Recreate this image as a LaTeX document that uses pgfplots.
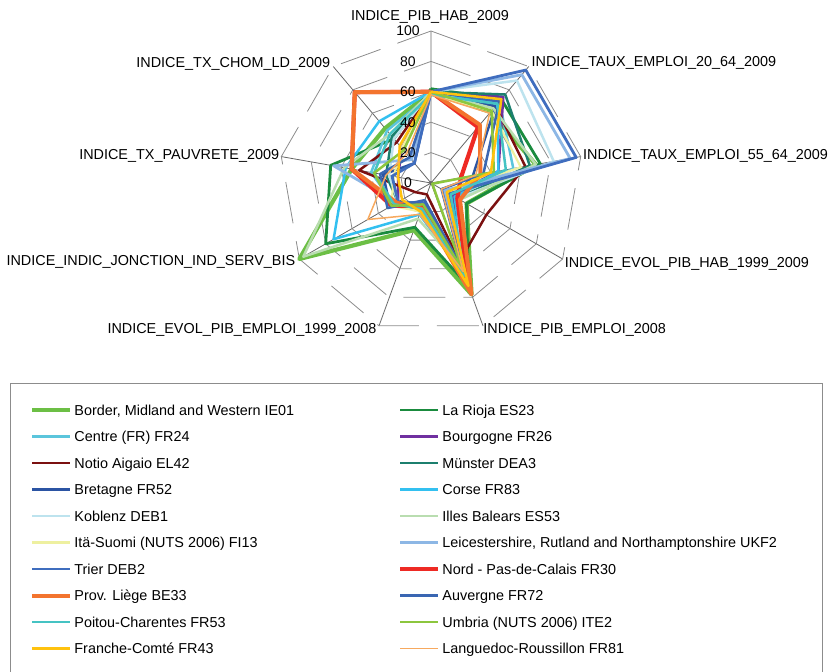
\documentclass[border=0pt]{standalone}
\usepackage{fontspec}
\setmainfont{Liberation Sans}
\usepackage{pgfplots}
\pgfplotsset{compat=1.18}
\usepgfplotslibrary{polar}
\definecolor{cBorder}{HTML}{6CBF45}
\definecolor{cRioja}{HTML}{1A8B3E}
\definecolor{cCentre}{HTML}{5BC5DC}
\definecolor{cBourg}{HTML}{7030A0}
\definecolor{cNotio}{HTML}{7B1010}
\definecolor{cMunster}{HTML}{1C7F6E}
\definecolor{cBret}{HTML}{2B54A3}
\definecolor{cCorse}{HTML}{33C0F0}
\definecolor{cKob}{HTML}{BDE3EE}
\definecolor{cIlles}{HTML}{B9DDB0}
\definecolor{cIta}{HTML}{EEF0A0}
\definecolor{cLeic}{HTML}{8DB7E5}
\definecolor{cTrier}{HTML}{3F6DBE}
\definecolor{cNord}{HTML}{EE2A24}
\definecolor{cLiege}{HTML}{F3742E}
\definecolor{cAuv}{HTML}{3A66B2}
\definecolor{cPoit}{HTML}{45C3C3}
\definecolor{cUmb}{HTML}{8CC63E}
\definecolor{cFran}{HTML}{FFC20E}
\definecolor{cLang}{HTML}{F7A95E}
\definecolor{cGrid}{HTML}{8C8C8C}
\definecolor{cSpoke}{HTML}{666666}
\tikzset{lab/.style={font=\fontsize{14.4bp}{17bp}\selectfont, inner sep=0pt, text height=10.4bp, text depth=0pt},
  rlab/.style={font=\fontsize{14bp}{16bp}\selectfont, inner sep=0pt, text height=10bp, text depth=0pt, anchor=center, xshift=-23bp}}
\begin{document}
\begin{tikzpicture}
\useasboundingbox (0,0) rectangle (835bp,672bp);
\begin{polaraxis}[
  at={(431bp,489bp)}, anchor=center,
  scale only axis, width=304bp, height=304bp,
  xmin=0, xmax=360, ymin=0, ymax=100,
  hide axis, clip=false,
  legend columns=2,
  legend cell align=left,
  legend image code/.code={\draw[#1] (0bp,0bp) -- (38bp,0bp);},
  legend style={at={(axis cs:208.71,300.8)}, anchor=north west, draw=none, fill=none,
    inner xsep=0pt, inner ysep=0pt, row sep=12bp,
    font=\fontsize{14.4bp}{17bp}\selectfont,
    cells={anchor=west},
    nodes={inner xsep=2bp, inner ysep=0pt, text height=12.5bp, text depth=2bp},
    /tikz/every even column/.append style={column sep=102bp}},
  every axis plot/.append style={line join=round},
]
% spokes
\addplot[forget plot, draw=cSpoke, line width=0.8bp] coordinates {(90,100) (90,0) (50,100) (50,0) (10,100) (10,0) (-30,100) (-30,0) (-70,100) (-70,0) (-110,100) (-110,0) (-150,100) (-150,0) (170,100) (170,0) (130,100)};
% rings
\addplot[forget plot, draw=cGrid, line width=0.8bp, dash pattern=on 42bp off 18bp] coordinates {(90,20) (50,20) (10,20) (-30,20) (-70,20) (-110,20) (-150,20) (170,20) (130,20) (90,20)};
\addplot[forget plot, draw=cGrid, line width=0.8bp, dash pattern=on 42bp off 18bp] coordinates {(90,40) (50,40) (10,40) (-30,40) (-70,40) (-110,40) (-150,40) (170,40) (130,40) (90,40)};
\addplot[forget plot, draw=cGrid, line width=0.8bp, dash pattern=on 42bp off 18bp] coordinates {(90,60) (50,60) (10,60) (-30,60) (-70,60) (-110,60) (-150,60) (170,60) (130,60) (90,60)};
\addplot[forget plot, draw=cGrid, line width=0.8bp, dash pattern=on 42bp off 18bp] coordinates {(90,80) (50,80) (10,80) (-30,80) (-70,80) (-110,80) (-150,80) (170,80) (130,80) (90,80)};
\addplot[forget plot, draw=cGrid, line width=0.8bp, dash pattern=on 42bp off 18bp] coordinates {(90,100) (50,100) (10,100) (-30,100) (-70,100) (-110,100) (-150,100) (170,100) (130,100) (90,100)};

% series
\addplot[cBorder, line width=4.2bp] coordinates {(90,60) (50,61) (10,70) (-30,27) (-70,78) (-110,33) (-150,100) (170,53) (130,47) (90,60)};
\addlegendentry{Border, Midland and Western IE01}
\addplot[cRioja, line width=2.8bp] coordinates {(90,62) (50,72) (10,73) (-30,27) (-70,72) (-110,31) (-150,80) (170,67) (130,38) (90,62)};
\addlegendentry{La Rioja ES23}
\addplot[cCentre, line width=2.5bp] coordinates {(90,58) (50,70) (10,55) (-30,18) (-70,65) (-110,20) (-150,28) (170,40) (130,45) (90,58)};
\addlegendentry{Centre (FR) FR24}
\addplot[cBourg, line width=2.5bp] coordinates {(90,60) (50,74) (10,45) (-30,16) (-70,62) (-110,18) (-150,25) (170,22) (130,30) (90,60)};
\addlegendentry{Bourgogne FR26}
\addplot[cNotio, line width=2.5bp] coordinates {(90,60) (50,66) (10,63) (-30,42) (-70,55) (-110,8) (-150,12) (170,48) (130,35) (90,60)};
\addlegendentry{Notio Aigaio EL42}
\addplot[cMunster, line width=2.5bp] coordinates {(90,60) (50,76) (10,66) (-30,20) (-70,66) (-110,15) (-150,25) (170,30) (130,40) (90,60)};
\addlegendentry{Münster DEA3}
\addplot[cBret, line width=2.5bp] coordinates {(90,60) (50,66) (10,28) (-30,18) (-70,60) (-110,16) (-150,31) (170,32) (130,17) (90,60)};
\addlegendentry{Bretagne FR52}
\addplot[cCorse, line width=2.5bp] coordinates {(90,60) (50,68) (10,45) (-30,18) (-70,65) (-110,22) (-150,74) (170,57) (130,53) (90,60)};
\addlegendentry{Corse FR83}
\addplot[cKob, line width=2.5bp] coordinates {(90,60) (50,88) (10,82) (-30,20) (-70,60) (-110,16) (-150,25) (170,28) (130,38) (90,60)};
\addlegendentry{Koblenz DEB1}
\addplot[cIlles, line width=2.5bp] coordinates {(90,60) (50,64) (10,70) (-30,22) (-70,60) (-110,25) (-150,97) (170,58) (130,42) (90,60)};
\addlegendentry{Illes Balears ES53}
\addplot[cIta, line width=2.2bp] coordinates {(90,58) (50,62) (10,60) (-30,12) (-70,55) (-110,20) (-150,30) (170,25) (130,30) (90,58)};
\addlegendentry{Itä-Suomi (NUTS 2006) FI13}
\addplot[cLeic, line width=2.8bp] coordinates {(90,60) (50,93) (10,93) (-30,10) (-70,62) (-110,18) (-150,26) (170,65) (130,20) (90,60)};
\addlegendentry{Leicestershire, Rutland and Northamptonshire UKF2}
\addplot[cTrier, line width=2.8bp] coordinates {(90,60) (50,97) (10,97) (-30,14) (-70,58) (-110,14) (-150,25) (170,26) (130,17) (90,60)};
\addlegendentry{Trier DEB2}
\addplot[cNord, line width=4.2bp] coordinates {(90,60) (50,48) (10,20) (-30,20) (-70,70) (-110,16) (-150,30) (170,53) (130,78) (90,60)};
\addlegendentry{Nord - Pas-de-Calais FR30}
\addplot[cLiege, line width=4bp] coordinates {(90,60) (50,50) (10,33) (-30,22) (-70,78) (-110,18) (-150,26) (170,53) (130,78) (90,60)};
\addlegendentry{Prov. Liège BE33}
\addplot[cAuv, line width=2.5bp] coordinates {(90,60) (50,70) (10,35) (-30,8) (-70,60) (-110,12) (-150,33) (170,34) (130,22) (90,60)};
\addlegendentry{Auvergne FR72}
\addplot[cPoit, line width=2.5bp] coordinates {(90,58) (50,68) (10,50) (-30,15) (-70,65) (-110,18) (-150,28) (170,38) (130,42) (90,58)};
\addlegendentry{Poitou-Charentes FR53}
\addplot[cUmb, line width=2.5bp] coordinates {(90,60) (50,62) (10,42) (-30,1) (-70,62) (-110,15) (-150,30) (170,38) (130,28) (90,60)};
\addlegendentry{Umbria (NUTS 2006) ITE2}
\addplot[cFran, line width=2.5bp] coordinates {(90,60) (50,72) (10,40) (-30,12) (-70,72) (-110,20) (-150,22) (170,22) (130,32) (90,60)};
\addlegendentry{Franche-Comté FR43}
\addplot[cLang, line width=1.5bp] coordinates {(90,58) (50,60) (10,30) (-30,8) (-70,62) (-110,22) (-150,48) (170,30) (130,25) (90,58)};
\addlegendentry{Languedoc-Roussillon FR81}

% radial tick labels
\node[rlab] at (axis cs:90,0) {0};
\node[rlab] at (axis cs:90,20) {20};
\node[rlab] at (axis cs:90,40) {40};
\node[rlab] at (axis cs:90,60) {60};
\node[rlab] at (axis cs:90,80) {80};
\node[rlab] at (axis cs:90,100) {100};
% category labels
\node[lab, anchor=center, xshift=-1bp, yshift=16bp] at (axis cs:90,100) {INDICE\_PIB\_HAB\_2009};
\node[lab, anchor=west, xshift=2.7bp, yshift=5.7bp] at (axis cs:50,100) {INDICE\_TAUX\_EMPLOI\_20\_64\_2009};
\node[lab, anchor=west, xshift=2.3bp, yshift=2.7bp] at (axis cs:10,100) {INDICE\_TAUX\_EMPLOI\_55\_64\_2009};
\node[lab, anchor=west, xshift=2bp, yshift=-3bp] at (axis cs:-30,100) {INDICE\_EVOL\_PIB\_HAB\_1999\_2009};
\node[lab, anchor=west, xshift=0.3bp, yshift=-2bp] at (axis cs:-70,100) {INDICE\_PIB\_EMPLOI\_2008};
\node[lab, anchor=east, xshift=-2.3bp, yshift=-2bp] at (axis cs:-110,100) {INDICE\_EVOL\_PIB\_EMPLOI\_1999\_2008};
\node[lab, anchor=east, xshift=-4bp, yshift=-1bp] at (axis cs:-150,100) {INDICE\_INDIC\_JONCTION\_IND\_SERV\_BIS};
\node[lab, anchor=east, xshift=-2bp, yshift=2bp] at (axis cs:170,100) {INDICE\_TX\_PAUVRETE\_2009};
\node[lab, anchor=east, xshift=-3bp, yshift=4.7bp] at (axis cs:130,100) {INDICE\_TX\_CHOM\_LD\_2009};
\end{polaraxis}
\draw[draw=cGrid, line width=1bp] (10bp,288bp) rectangle (822bp,-5bp);
\end{tikzpicture}
\end{document}
